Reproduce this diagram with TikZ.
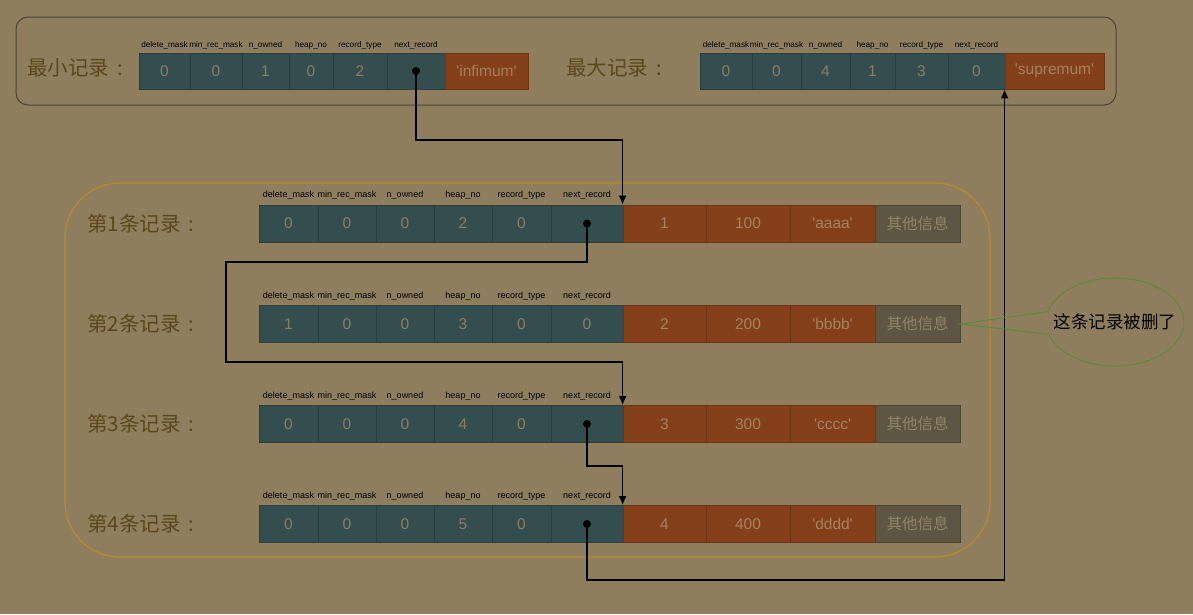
\documentclass[tikz,border=0pt]{standalone}
\usepackage{fontspec}
\setmainfont{Liberation Sans}
\newfontfamily\cjk{Noto Sans CJK SC}
\usetikzlibrary{arrows.meta,shapes.callouts}
\definecolor{bgbrown}{HTML}{8E7E5E}
\definecolor{tealcell}{HTML}{344E50}
\definecolor{tealedge}{HTML}{2A3F41}
\definecolor{tealtext}{HTML}{8C7D5F}
\definecolor{orangecell}{HTML}{84401A}
\definecolor{orangeedge}{HTML}{6C3414}
\definecolor{orangetext}{HTML}{A4825E}
\definecolor{graycell}{HTML}{5E5544}
\definecolor{grayedge}{HTML}{4C4536}
\definecolor{graytext}{HTML}{928468}
\definecolor{labelbrown}{HTML}{5C481C}
\definecolor{goldline}{HTML}{B88A30}
\definecolor{boxline}{HTML}{4A4437}
\definecolor{notegreen}{HTML}{5E8A3A}
\newcommand{\q}{\textquotesingle}
\newcommand{\colgap}{\hspace{8pt}:}
\tikzset{
  cellbase/.style={draw, minimum height=37, inner sep=0, line width=0.8pt,
    font=\fontsize{15.5}{15.5}\selectfont},
  tcell/.style={cellbase, fill=tealcell, draw=tealedge, text=tealtext},
  ocell/.style={cellbase, fill=orangecell, draw=orangeedge, text=orangetext},
  gcell/.style={cellbase, fill=graycell, draw=grayedge, text=graytext,
    font=\cjk\fontsize{15.5}{15.5}\selectfont},
  fld/.style={inner sep=0, font=\fontsize{9}{9}\selectfont},
  topfld/.style={fld, font=\fontsize{8.2}{8.2}\selectfont},
  rowlabel/.style={anchor=west, inner sep=0, text=labelbrown,
    font=\cjk\fontsize{20.5}{20.5}\selectfont},
  link/.style={line width=1.6pt, -{Latex[length=9pt,width=8pt]}},
  dot/.style={fill=black},
  note/.style={ellipse callout, draw=notegreen, line width=1pt, inner sep=0,
    minimum width=138, minimum height=88, callout pointer arc=30,
    font=\cjk\fontsize{17.5}{17.5}\selectfont},
}
% one user record: #1 number, #2 y, #3 delete_mask, #4 heap_no, #5 next_record,
% #6 id, #7 number column, #8 string column
\newcommand{\recrow}[8]{%
  \node[rowlabel] (r#1lab) at (87,#2) {第#1条记录\colgap};
  \foreach \xa/\xb/\v/\f [count=\i] in {259/318/#3/delete\_mask, 318/376/0/min\_rec\_mask,
      376/434/0/n\_owned, 434/492/#4/heap\_no, 492/551/0/record\_type, 551/623/#5/next\_record}
  {
    \node[tcell, minimum width=\xb-\xa] (r#1c\i) at ({(\xa+\xb)/2},#2) {\v};
    \node[fld] (r#1f\i) at ({(\xa+\xb)/2},#2-28) {\f};
  }
  \foreach \xa/\xb/\v [count=\i] in {623/706/#6, 706/790/#7, 790/875/#8}
    \node[ocell, minimum width=\xb-\xa] (r#1d\i) at ({(\xa+\xb)/2},#2) {\v};
  \node[gcell, minimum width=85] (r#1x) at (917.5,#2) {其他信息};
}

\begin{document}
\begin{tikzpicture}[x=1pt, y=-1pt]
  \fill[bgbrown] (0,0) rectangle (1193,614);
  \useasboundingbox (0,0) rectangle (1193,614);

  %%% infimum / supremum
  \draw[boxline, line width=1pt, rounded corners=12] (16,17) rectangle (1116,105);

  \node[rowlabel] (minlab) at (27,68) {最小记录\colgap};
  \foreach \xa/\xb/\v/\f [count=\i] in {139/190/0/delete\_mask, 190/242/0/min\_rec\_mask,
      242/289/1/n\_owned, 289/333/0/heap\_no, 333/387/2/record\_type, 387/445/{}/next\_record}
  {
    \node[tcell, minimum width=\xb-\xa, minimum height=36] (min\i) at ({(\xa+\xb)/2},71) {\v};
    \node[topfld] (minf\i) at ({(\xa+\xb)/2},45) {\f};
  }
  \node[ocell, minimum width=83, minimum height=36] (inf) at (486.5,71) {\q infimum\q};

  \node[rowlabel] (maxlab) at (566,68) {最大记录\colgap};
  \foreach \xa/\xb/\v/\f [count=\i] in {700/752/0/delete\_mask, 752/801/0/min\_rec\_mask,
      801/850/4/n\_owned, 850/895/1/heap\_no, 895/948/3/record\_type, 948/1005/0/next\_record}
  {
    \node[tcell, minimum width=\xb-\xa, minimum height=36] (max\i) at ({(\xa+\xb)/2},71) {\v};
    \node[topfld] (maxf\i) at ({(\xa+\xb)/2},45) {\f};
  }
  \node[ocell, minimum width=99, minimum height=36] (sup) at (1054.5,71) {\q supremum\q};

  %%% user records
  \draw[goldline, line width=1.2pt, rounded corners=55] (65,183) rectangle (990,557);

  \recrow{1}{223.5}{0}{2}{}{1}{100}{\q aaaa\q}
  \recrow{2}{324}{1}{3}{0}{2}{200}{\q bbbb\q}
  \recrow{3}{424}{0}{4}{}{3}{300}{\q cccc\q}
  \recrow{4}{524}{0}{5}{}{4}{400}{\q dddd\q}

  %%% next_record links
  \fill[dot] (min6.center) circle[radius=4pt];
  \fill[dot] (r1c6.center) circle[radius=4pt];
  \fill[dot] (r3c6.center) circle[radius=4pt];
  \fill[dot] (r4c6.center) circle[radius=4pt];

  \draw[link] (min6.center) -- ++(0,69) -| (r1d1.north west);
  \draw[link] (r1c6.center) -- ++(0,38.5) -- ++(-361,0) -- ++(0,100) -| (r3d1.north west);
  \draw[link] (r3c6.center) -- ++(0,42) -| (r4d1.north west);
  \draw[link] (r4c6.center) -- ++(0,56) -| (sup.south west);

  %%% deleted mark
  \node[note, callout absolute pointer=(r2x.east)] (deleted) at (1115,322)
    {\makebox[0pt]{这条记录被删了}};
\end{tikzpicture}
\end{document}
